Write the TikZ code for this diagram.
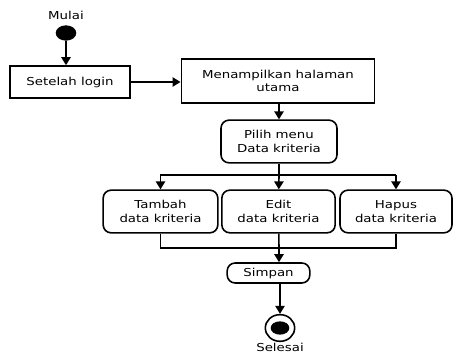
\documentclass[tikz,border=0pt]{standalone}
\usepackage{fontspec}
\setmainfont[FakeStretch=1.22]{DejaVu Sans}
\usetikzlibrary{positioning,arrows.meta,shapes.geometric}

\begin{document}
\begin{tikzpicture}[x=0.75pt,y=-0.75pt,
		font=\fontsize{8.2}{10}\selectfont,
		kotak/.style={draw,rectangle,line width=1.2pt,align=center,inner sep=0},
		aksi/.style={draw,rounded corners=6pt,line width=1.2pt,align=center,inner sep=0},
		panah/.style={-{Triangle[length=6pt,width=7pt]},line width=1.2pt},
		garis/.style={line width=1.2pt}]
		\useasboundingbox (0,0) rectangle (455,352);
		% nodes
		
		\node at (66,15) (mulai) {Mulai};
		\node[draw,ellipse,fill=black,minimum width=15pt,minimum height=11pt,inner sep=0] at (66,33) (awal) {};
		
		\node[kotak, minimum width=90pt, minimum height=24pt] at (70,82) (login) {Setelah login};
		\node[kotak, minimum width=145pt, minimum height=33pt] at (278,81) (utama) {Menampilkan halaman\\utama};
		\node[aksi, minimum width=87pt, minimum height=32pt] at (279,141.5) (pilih) {Pilih menu\\Data kriteria};
		
		\node[aksi, minimum width=86pt, minimum height=32pt] at (160.5,211.5) (tambah) {Tambah\\data kriteria};
		\node[aksi, minimum width=85pt, minimum height=32pt] at (278.5,211.5) (edit) {Edit\\data kriteria};
		\node[aksi, minimum width=84pt, minimum height=32pt] at (396,211.5) (hapus) {Hapus\\data kriteria};
		
		\node[aksi, minimum width=62pt, minimum height=15pt] at (268.5,273) (simpan) {Simpan};
		
		\node[draw,ellipse,line width=1.2pt,minimum width=22pt,minimum height=20pt,inner sep=0] at (280,328) (akhir) {};
		\node[ellipse,fill=black,minimum width=14pt,minimum height=10pt,inner sep=0] at (280,328) (akhirdalam) {};
		\node at (280,347) (selesai) {Selesai};
		
		\coordinate (cabang) at (279,175);
		\coordinate (gabung) at (279,248);
		
		% connectors
		\draw[panah] (awal) -- (awal |- login.north);
		\draw[panah] (login.east) -- (login.east -| utama.west);
		\draw[panah] (utama.south -| pilih) -- (pilih);
		
		\draw[garis] (pilih) -- (cabang);
		\draw[garis] (tambah |- cabang) -- (hapus |- cabang);
		\draw[panah] (tambah |- cabang) -- (tambah);
		\draw[panah] (cabang) -- (edit);
		\draw[panah] (hapus |- cabang) -- (hapus);
		
		\draw[garis] (tambah) -- (tambah |- gabung) -- (hapus |- gabung) -- (hapus);
		\draw[garis] (edit) -- (gabung);
		\draw[panah] (gabung) -- (gabung |- simpan.north);
		\draw[panah] (simpan.south -| akhir) -- (akhir);
		\end{tikzpicture}
\end{document}
